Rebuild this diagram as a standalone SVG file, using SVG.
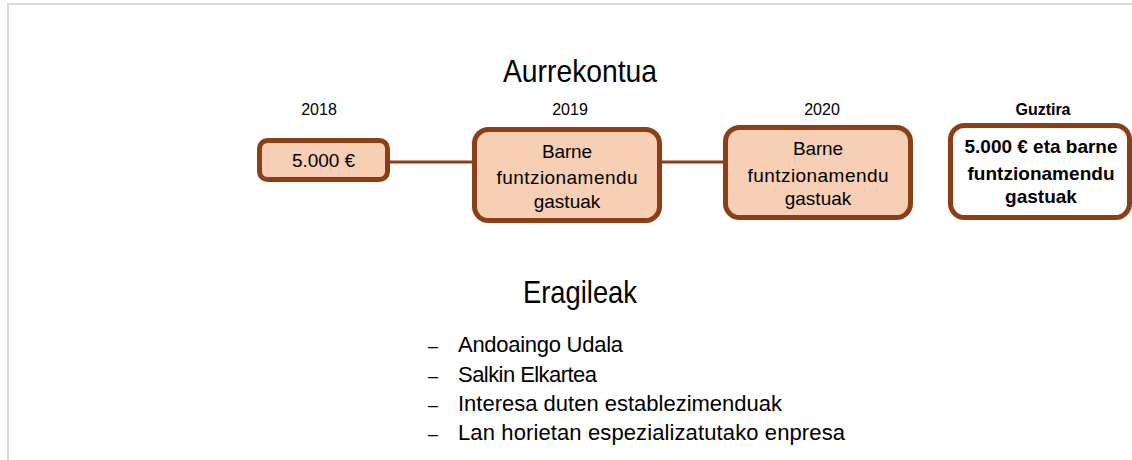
<svg xmlns="http://www.w3.org/2000/svg" width="1132" height="460" viewBox="0 0 1132 460">
<style>
.frame{stroke:#d9d9d9;stroke-width:2;fill:none}
.box{fill:#f7cfb5;stroke:#8b3f17;stroke-width:5}
.tot{fill:#ffffff;stroke:#8b3f17;stroke-width:5}
.conn{stroke:#8b3f17;stroke-width:3;fill:none}
text{font-family:"Liberation Sans",Arial,sans-serif;fill:#000}
.head{font-size:32px;text-anchor:middle}
.year{font-size:16px;text-anchor:middle}
.bt{font-size:19px;text-anchor:middle}
.bold{font-weight:bold}
.li{font-size:22px}
.dash{font-size:18px}
</style>
<rect width="1132" height="460" fill="#ffffff"/>
<path class="frame" d="M8,460 V4 H1132"/>
<text class="head" x="580" y="82" textLength="154" lengthAdjust="spacingAndGlyphs">Aurrekontua</text>
<text class="year" x="319" y="115">2018</text>
<text class="year" x="570" y="115">2019</text>
<text class="year" x="822" y="115">2020</text>
<text class="year bold" x="1043" y="115" textLength="55">Guztira</text>
<g id="connectors">
<line class="conn" x1="390" y1="162" x2="472" y2="162"/>
<line class="conn" x1="662" y1="162" x2="723" y2="162"/>
</g>
<g id="n2018">
<rect class="box" x="259.5" y="140.5" width="128" height="39" rx="8"/>
<text class="bt" x="323.5" y="167" textLength="63">5.000 €</text>
</g>
<g id="n2019">
<rect class="box" x="474.5" y="129.5" width="185" height="91" rx="14"/>
<text class="bt" x="567" y="158" textLength="50">Barne</text>
<text class="bt" x="567" y="184" textLength="141">funtzionamendu</text>
<text class="bt" x="567" y="208">gastuak</text>
</g>
<g id="n2020">
<rect class="box" x="725.5" y="127.5" width="185" height="90" rx="14"/>
<text class="bt" x="818" y="155" textLength="50">Barne</text>
<text class="bt" x="818" y="182" textLength="141">funtzionamendu</text>
<text class="bt" x="818" y="205">gastuak</text>
</g>
<g id="nGuztira">
<rect class="tot" x="950.5" y="125.5" width="179" height="92" rx="14"/>
<text class="bt bold" x="1041" y="153" textLength="153">5.000 € eta barne</text>
<text class="bt bold" x="1041" y="180" textLength="147">funtzionamendu</text>
<text class="bt bold" x="1041" y="203">gastuak</text>
</g>
<text class="head" x="580" y="303" font-size="28" textLength="114" lengthAdjust="spacingAndGlyphs">Eragileak</text>
<g id="list">
<text class="li dash" x="428" y="352">–</text>
<text class="li" x="458" y="352" textLength="165">Andoaingo Udala</text>
<text class="li dash" x="428" y="382">–</text>
<text class="li" x="458" y="382" textLength="139">Salkin Elkartea</text>
<text class="li dash" x="428" y="411">–</text>
<text class="li" x="458" y="411" textLength="324">Interesa duten establezimenduak</text>
<text class="li dash" x="428" y="440">–</text>
<text class="li" x="458" y="440" textLength="387">Lan horietan espezializatutako enpresa</text>
</g>
</svg>
